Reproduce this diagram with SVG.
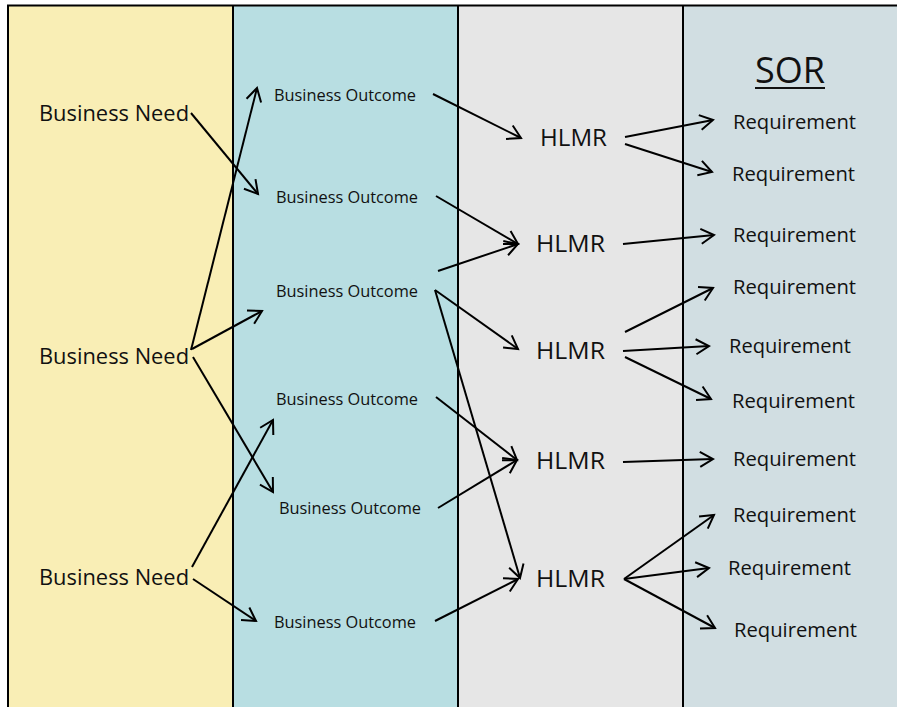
<svg xmlns="http://www.w3.org/2000/svg" width="897" height="707" viewBox="0 0 897 707">
<defs>
<marker id="ah" markerUnits="userSpaceOnUse" markerWidth="20" markerHeight="20" refX="0" refY="0" orient="auto" overflow="visible">
<path d="M-13,-7.5 L0,0 L-13,7.5" fill="none" stroke="#000" stroke-width="2" stroke-linejoin="miter"/>
</marker>
<style>
text{font-family:"Open Sans","Liberation Sans",sans-serif;fill:#111;}
.bn{font-size:21px;}
.bo{font-size:16px;}
.hl{font-size:23px;}
.rq{font-size:20px;}
.sor{font-size:36px;}
.col{stroke:#000;stroke-width:2;}
#connectors line{stroke:#000;stroke-width:2;marker-end:url(#ah);}
</style>
</defs>
<rect width="897" height="707" fill="#fff"/>
<g id="columns">
<rect x="8" y="5.5" width="225" height="710" fill="#F9EEB5"/>
<rect x="233" y="5.5" width="225" height="710" fill="#B8DEE2"/>
<rect x="458" y="5.5" width="225" height="710" fill="#E6E6E6"/>
<rect x="683" y="5.5" width="220" height="710" fill="#D1DEE2"/>
<line class="col" x1="7" y1="5.5" x2="897" y2="5.5"/>
<line class="col" x1="8" y1="5" x2="8" y2="707"/>
<line class="col" x1="233" y1="5" x2="233" y2="707"/>
<line class="col" x1="458" y1="5" x2="458" y2="707"/>
<line class="col" x1="683" y1="5" x2="683" y2="707"/>
</g>
<g id="sor-title">
<text class="sor" x="755" y="83" textLength="70" lengthAdjust="spacingAndGlyphs">SOR</text>
<line x1="755" y1="88" x2="825" y2="88" stroke="#111" stroke-width="2"/>
</g>
<g id="bn1"><text class="bn" x="39" y="121" textLength="150" lengthAdjust="spacingAndGlyphs">Business Need</text></g>
<g id="bn2"><text class="bn" x="39" y="364" textLength="150" lengthAdjust="spacingAndGlyphs">Business Need</text></g>
<g id="bn3"><text class="bn" x="39" y="585" textLength="150" lengthAdjust="spacingAndGlyphs">Business Need</text></g>
<g id="bo1"><text class="bo" x="274" y="101" textLength="142" lengthAdjust="spacingAndGlyphs">Business Outcome</text></g>
<g id="bo2"><text class="bo" x="276" y="203" textLength="142" lengthAdjust="spacingAndGlyphs">Business Outcome</text></g>
<g id="bo3"><text class="bo" x="276" y="297" textLength="142" lengthAdjust="spacingAndGlyphs">Business Outcome</text></g>
<g id="bo4"><text class="bo" x="276" y="405" textLength="142" lengthAdjust="spacingAndGlyphs">Business Outcome</text></g>
<g id="bo5"><text class="bo" x="279" y="514" textLength="142" lengthAdjust="spacingAndGlyphs">Business Outcome</text></g>
<g id="bo6"><text class="bo" x="274" y="628" textLength="142" lengthAdjust="spacingAndGlyphs">Business Outcome</text></g>
<g id="hlmr1"><text class="hl" x="540" y="146" textLength="67" lengthAdjust="spacingAndGlyphs">HLMR</text></g>
<g id="hlmr2"><text class="hl" x="536" y="252" textLength="69" lengthAdjust="spacingAndGlyphs">HLMR</text></g>
<g id="hlmr3"><text class="hl" x="536" y="359" textLength="69" lengthAdjust="spacingAndGlyphs">HLMR</text></g>
<g id="hlmr4"><text class="hl" x="536" y="469" textLength="69" lengthAdjust="spacingAndGlyphs">HLMR</text></g>
<g id="hlmr5"><text class="hl" x="536" y="587" textLength="69" lengthAdjust="spacingAndGlyphs">HLMR</text></g>
<g id="req1"><text class="rq" x="733" y="129" textLength="123" lengthAdjust="spacingAndGlyphs">Requirement</text></g>
<g id="req2"><text class="rq" x="732" y="181" textLength="123" lengthAdjust="spacingAndGlyphs">Requirement</text></g>
<g id="req3"><text class="rq" x="733" y="242" textLength="123" lengthAdjust="spacingAndGlyphs">Requirement</text></g>
<g id="req4"><text class="rq" x="733" y="294" textLength="123" lengthAdjust="spacingAndGlyphs">Requirement</text></g>
<g id="req5"><text class="rq" x="729" y="353" textLength="122" lengthAdjust="spacingAndGlyphs">Requirement</text></g>
<g id="req6"><text class="rq" x="732" y="408" textLength="123" lengthAdjust="spacingAndGlyphs">Requirement</text></g>
<g id="req7"><text class="rq" x="733" y="466" textLength="123" lengthAdjust="spacingAndGlyphs">Requirement</text></g>
<g id="req8"><text class="rq" x="733" y="522" textLength="123" lengthAdjust="spacingAndGlyphs">Requirement</text></g>
<g id="req9"><text class="rq" x="728" y="575" textLength="123" lengthAdjust="spacingAndGlyphs">Requirement</text></g>
<g id="req10"><text class="rq" x="734" y="637" textLength="123" lengthAdjust="spacingAndGlyphs">Requirement</text></g>
<g id="connectors">
<line x1="191" y1="113" x2="258" y2="194"/>
<line x1="191" y1="350" x2="257" y2="88"/>
<line x1="192" y1="349" x2="262" y2="311"/>
<line x1="193" y1="357" x2="273" y2="492"/>
<line x1="192" y1="567" x2="273" y2="420"/>
<line x1="193" y1="579" x2="256" y2="621"/>
<line x1="433" y1="94" x2="521" y2="138"/>
<line x1="436" y1="196" x2="518" y2="244"/>
<line x1="438" y1="271" x2="518" y2="244"/>
<line x1="435" y1="290" x2="518" y2="349"/>
<line x1="435" y1="290" x2="520" y2="578"/>
<line x1="436" y1="397" x2="517" y2="460"/>
<line x1="438" y1="508" x2="517" y2="460"/>
<line x1="435" y1="621" x2="518" y2="579"/>
<line x1="625" y1="137" x2="713" y2="120"/>
<line x1="625" y1="144" x2="712" y2="172"/>
<line x1="623" y1="244" x2="714" y2="235"/>
<line x1="625" y1="332" x2="713" y2="288"/>
<line x1="623" y1="351" x2="709" y2="346"/>
<line x1="625" y1="357" x2="711" y2="399"/>
<line x1="623" y1="462" x2="713" y2="459"/>
<line x1="624" y1="579" x2="714" y2="515"/>
<line x1="624" y1="579" x2="709" y2="568"/>
<line x1="624" y1="579" x2="715" y2="628"/>
</g>
</svg>
